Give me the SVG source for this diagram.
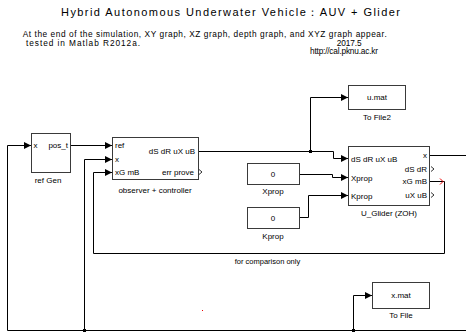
<svg xmlns="http://www.w3.org/2000/svg" width="466" height="333" viewBox="0 0 466 333">
<style>
text{font-family:"Liberation Sans",Arial,sans-serif;fill:#000}
.p{font-size:8px}
.lb{font-size:8px;text-anchor:middle}
.blk{fill:#fff;stroke:#3a3a3a;stroke-width:1}
.ln{fill:none;stroke:#000;stroke-width:1}
.ch{fill:none;stroke:#000;stroke-width:0.8}
</style>
<defs>
<marker id="ah" markerUnits="userSpaceOnUse" markerWidth="8" markerHeight="8" refX="7" refY="3.5" orient="auto">
<path d="M0,0 L7,3.5 L0,7 z" fill="#000"/>
</marker>
</defs>
<rect width="466" height="333" fill="#fff"/>
<text x="230.5" y="15.5" font-size="11" text-anchor="middle" textLength="339" lengthAdjust="spacing">Hybrid Autonomous Underwater Vehicle：AUV + Glider</text>
<text x="22.7" y="37" font-size="8.3" textLength="364" lengthAdjust="spacing">At the end of the simulation, XY graph, XZ graph, depth graph, and XYZ graph appear.</text>
<text x="26" y="45.5" font-size="8.3" textLength="114" lengthAdjust="spacing">tested in Matlab R2012a.</text>
<text x="336.7" y="45.5" font-size="8.3" textLength="25" lengthAdjust="spacing">2017.5</text>
<text x="310" y="54" font-size="8.3" textLength="68" lengthAdjust="spacing">http://cal.pknu.ac.kr</text>
<g id="connectors">
<path class="ln" d="M466,330.5 H7.5 V145.5 H31" marker-end="url(#ah)"/>
<path class="ln" d="M84.5,330.5 V159.5 H112" marker-end="url(#ah)"/>
<path class="ln" d="M353.5,330.5 V295.5 H372" marker-end="url(#ah)"/>
<path class="ln" d="M71,145.5 H112" marker-end="url(#ah)"/>
<path class="ln" d="M198,151.5 H333.5 V158.5 H348" marker-end="url(#ah)"/>
<path class="ln" d="M310.5,151.5 V97.5 H348" marker-end="url(#ah)"/>
<path class="ln" d="M300,174.5 H332.5 V177.5 H348" marker-end="url(#ah)"/>
<path class="ln" d="M300,217.5 H308.5 V195.5 H348" marker-end="url(#ah)"/>
<path class="ln" d="M430,155.5 H466"/>
<path class="ln" d="M430,181.5 H444.5 V253.5 H93.5 V172.5 H112" marker-end="url(#ah)"/>
<rect x="309" y="150" width="3" height="3" fill="#000"/>
<rect x="83" y="329" width="3" height="3" fill="#000"/>
<rect x="352" y="329" width="3" height="3" fill="#000"/>
<path d="M440,178.5 L443,181.5 L440,184.5" fill="none" stroke="#e00" stroke-width="1"/>
<rect x="202" y="310" width="1" height="1" fill="#e00"/>
</g>
<g id="refGen">
<rect class="blk" x="31.5" y="133.5" width="39" height="39"/>
<text class="p" x="33.5" y="148">x</text>
<text class="p" x="68" y="148" text-anchor="end">pos_t</text>
<text class="lb" x="48" y="183">ref Gen</text>
</g>
<g id="observer">
<rect class="blk" x="112.5" y="137.5" width="86" height="42"/>
<text class="p" x="115" y="148">ref</text>
<text class="p" x="115" y="162">x</text>
<text class="p" x="115" y="175">xG mB</text>
<text class="p" x="195" y="154" text-anchor="end">dS dR uX uB</text>
<text class="p" x="194" y="175" text-anchor="end">err prove</text>
<path class="ch" d="M199,169.5 L202,172 L199,174.5"/>
<text class="lb" x="155" y="193">observer + controller</text>
</g>
<g id="uGlider">
<rect class="blk" x="348.5" y="146.5" width="81" height="59"/>
<text class="p" x="351" y="162">dS dR uX uB</text>
<text class="p" x="351" y="181">Xprop</text>
<text class="p" x="351" y="199">Kprop</text>
<text class="p" x="427" y="158" text-anchor="end">x</text>
<text class="p" x="427" y="172" text-anchor="end">dS dR</text>
<text class="p" x="427" y="184" text-anchor="end">xG mB</text>
<text class="p" x="427" y="198" text-anchor="end">uX uB</text>
<path class="ch" d="M431,166.5 L434,169 L431,171.5"/>
<path class="ch" d="M431,192.5 L434,195 L431,197.5"/>
<text class="lb" x="389" y="216">U_Glider (ZOH)</text>
</g>
<g id="xprop">
<rect class="blk" x="247.5" y="163.5" width="52" height="21"/>
<text class="lb" x="273" y="177">0</text>
<text class="lb" x="273" y="194">Xprop</text>
</g>
<g id="kprop">
<rect class="blk" x="247.5" y="207.5" width="52" height="21"/>
<text class="lb" x="273" y="221">0</text>
<text class="lb" x="273" y="239">Kprop</text>
</g>
<g id="toFile2">
<rect class="blk" x="348.5" y="85.5" width="57" height="24"/>
<text class="lb" x="377" y="100">u.mat</text>
<text class="lb" x="377" y="120">To File2</text>
</g>
<g id="toFile">
<rect class="blk" x="372.5" y="282.5" width="57" height="26"/>
<text class="lb" x="401" y="298">x.mat</text>
<text class="lb" x="401" y="318">To File</text>
</g>
<g id="comparisonLabel">
<text x="267.5" y="264" font-size="7.5" text-anchor="middle">for comparison only</text>
</g>
</svg>
